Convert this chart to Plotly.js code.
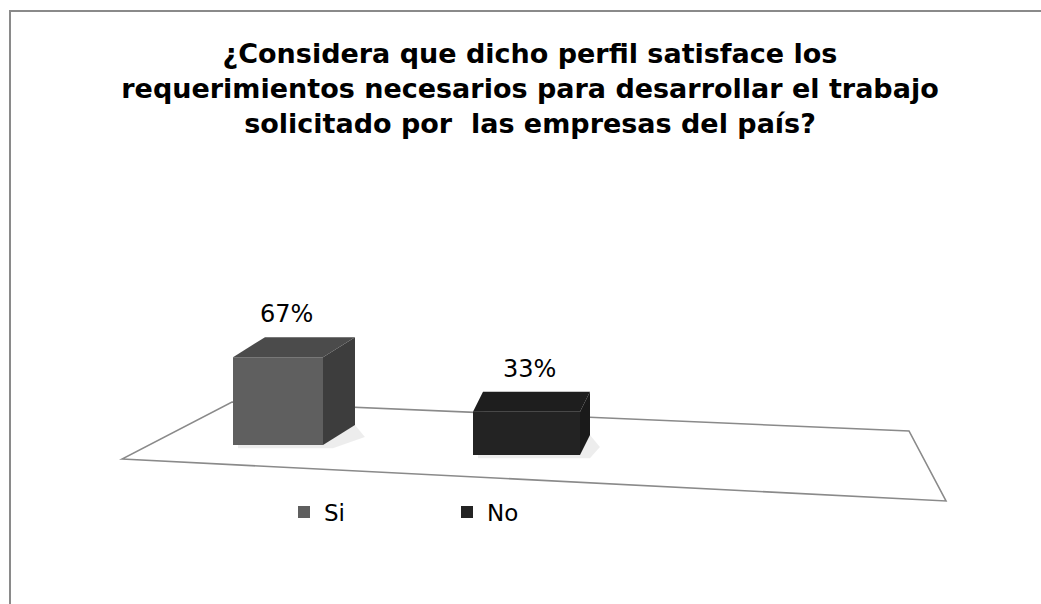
<!DOCTYPE html>
<html><head><meta charset="utf-8">
<script src="https://cdn.plot.ly/plotly-3.0.1.min.js"></script>
<style>html,body{margin:0;padding:0;background:#fff}</style>
</head><body><div id="chart" style="width:1041px;height:604px"></div>
<script>
// ---- data ----
const categories = ['Si', 'No'];
const values = [67, 33];
const valueLabels = ['67%', '33%'];
const titleLines = [
  '¿Considera que dicho perfil satisface los',
  'requerimientos necesarios para desarrollar el trabajo',
  'solicitado por \u00a0las empresas del país?'
];

// ---- styling / geometry (not data) ----
const frontColors = ['#5f5f5f', '#232323'];
const sideColors  = ['#3d3d3d', '#1a1a1a'];
const topColors   = ['#4b4b4b', '#1e1e1e'];
const frontWidthPx = [90, 107];
const depthXPx = [32, 10];
const depthYPx = 20;
const FONT = 'DejaVu Sans, Verdana, sans-serif';
const W = 1041, H = 604;
const plotL = 122, plotR = 946, plotT = 150, plotB = 501;
const pxPerX = 248.5;          // pixels per category step
const pxPerY = 1.31;           // pixels per percentage point
const x0px = 278;              // pixel of first category centre
const y0px = 445;              // pixel of value 0 for first bar
const xRange = [-(x0px - plotL) / pxPerX, (plotR - x0px) / pxPerX];
const yMin = -(plotB - y0px) / pxPerY;
const yRange = [yMin, yMin + (plotB - plotT) / pxPerY];
const depthY = depthYPx / pxPerY;
const tiltY = 10 / pxPerY;     // floor perspective tilt per category step

const px = x => (x - plotL) / (plotR - plotL);
const py = y => (plotB - y) / (plotB - plotT);

const traces = categories.map((c, i) => ({
  type: 'bar',
  x: [i],
  y: [values[i]],
  base: [-tiltY * i],
  width: frontWidthPx[i] / pxPerX,
  name: c,
  marker: { color: frontColors[i], line: { width: 0 } },
  hoverinfo: 'name+y'
}));

const shapes = [];
// chart border
shapes.push({ type: 'rect', xref: 'paper', yref: 'paper', layer: 'below',
  x0: px(10), x1: px(1065), y0: py(11), y1: py(640),
  line: { color: '#8a8a8a', width: 2 }, fillcolor: 'rgba(0,0,0,0)' });
// floor
const floorPts = [[122, 459], [946, 501], [909, 431], [232, 402]];
shapes.push({ type: 'path', xref: 'paper', yref: 'paper', layer: 'below',
  path: 'M' + floorPts.map(p => px(p[0]) + ',' + py(p[1])).join('L') + 'Z',
  line: { color: '#8a8a8a', width: 1.6 }, fillcolor: '#ffffff' });

const annotations = [];
categories.forEach((c, i) => {
  const b = -tiltY * i;
  const t = b + values[i];
  const hw = frontWidthPx[i] / pxPerX / 2;
  const dX = depthXPx[i] / pxPerX;
  const xl = i - hw, xr = i + hw;
  // soft shadow
  shapes.push({ type: 'path', xref: 'x', yref: 'y', layer: 'below',
    path: `M${xl + 0.02},${b - 2.5}L${xr + 0.04},${b - 2.5}L${xr + dX + 0.04},${b + depthY * 0.4}L${xr + dX},${b + depthY}L${xl + 0.02},${b}Z`,
    line: { width: 0 }, fillcolor: 'rgba(0,0,0,0.07)' });
  // side face
  shapes.push({ type: 'path', xref: 'x', yref: 'y', layer: 'above',
    path: `M${xr},${b}L${xr},${t}L${xr + dX},${t + depthY}L${xr + dX},${b + depthY}Z`,
    line: { width: 0 }, fillcolor: sideColors[i] });
  // top face
  shapes.push({ type: 'path', xref: 'x', yref: 'y', layer: 'above',
    path: `M${xl},${t}L${xr},${t}L${xr + dX},${t + depthY}L${xl + dX},${t + depthY}Z`,
    line: { width: 0 }, fillcolor: topColors[i] });
  annotations.push({ x: i + dX / 4, y: t + depthY, xref: 'x', yref: 'y',
    text: valueLabels[i], showarrow: false, yanchor: 'bottom', yshift: 7,
    font: { family: FONT, size: 24, color: '#000' } });
});

const layout = {
  width: W, height: H,
  margin: { l: plotL, r: W - plotR, t: plotT, b: H - plotB, pad: 0 },
  paper_bgcolor: '#ffffff', plot_bgcolor: 'rgba(0,0,0,0)',
  title: { text: titleLines.join('<br>'), xref: 'container', yref: 'container',
    x: 530 / W, xanchor: 'center', y: 1 - 63 / H, yanchor: 'top',
    font: { family: FONT, size: 27, weight: 'bold', color: '#000' } },
  xaxis: { range: xRange, visible: false, fixedrange: true },
  yaxis: { range: yRange, visible: false, fixedrange: true },
  barmode: 'overlay',
  showlegend: true,
  legend: { orientation: 'h', x: px(284), xanchor: 'left', y: py(512), yanchor: 'middle',
    entrywidth: 118, entrywidthmode: 'pixels', bgcolor: 'rgba(0,0,0,0)',
    font: { family: FONT, size: 23, color: '#000' } },
  shapes: shapes,
  annotations: annotations
};

Plotly.newPlot('chart', traces, layout, { displayModeBar: false, staticPlot: true });
</script>
</body></html>
